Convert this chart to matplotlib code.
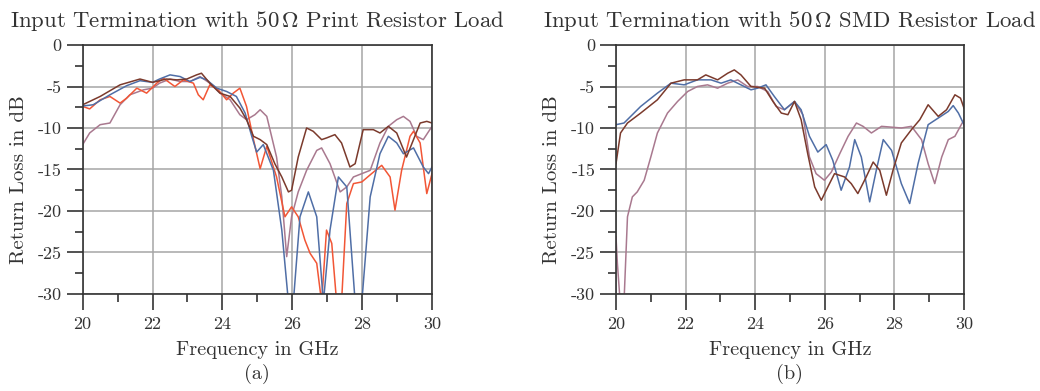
import numpy as np
import matplotlib
matplotlib.use("Agg")
import matplotlib.pyplot as plt
from matplotlib.ticker import MultipleLocator, FuncFormatter

plt.rcParams['font.family'] = 'serif'
plt.rcParams['font.serif'] = ['cmr10']
plt.rcParams['mathtext.fontset'] = 'cm'
plt.rcParams['axes.unicode_minus'] = False

## Data

# (a) print resistor load
a_blue_f = [20.0, 20.3, 20.78, 21.26, 21.64, 22.0, 22.2, 22.5, 22.79, 23.07, 23.36, 23.55, 23.84, 24.12,
            24.4, 24.65, 24.84, 24.98, 25.17, 25.46, 25.7, 25.89, 26.03, 26.22, 26.46, 26.7, 26.89,
            27.08, 27.32, 27.56, 27.8, 27.99, 28.23, 28.51, 28.75, 28.99, 29.18, 29.47, 29.75, 29.9, 30.0]
a_blue_db = [-7.35, -7.2, -6.0, -4.9, -4.3, -4.5, -4.1, -3.6, -3.8, -4.4, -3.9, -4.2, -5.2, -5.6,
             -6.2, -8.2, -11.0, -12.9, -12.0, -15.1, -22.3, -31, -31, -20.7, -17.7, -20.7, -31,
             -22.3, -15.9, -17.1, -31, -31, -18.3, -13.1, -11.0, -11.8, -13.1, -12.4, -14.7, -15.5, -14.7]

a_brown_f = [20.0, 20.5, 21.07, 21.64, 22.0, 22.4, 22.7, 22.98, 23.26, 23.4, 23.64, 23.93, 24.22, 24.5,
             24.69, 24.89, 25.08, 25.27, 25.5, 25.7, 25.89, 25.98, 26.17, 26.41, 26.6, 26.84, 26.98,
             27.22, 27.41, 27.65, 27.8, 28.03, 28.32, 28.51, 28.75, 28.99, 29.27, 29.47, 29.66, 29.85, 30.0]
a_brown_db = [-7.2, -6.2, -4.8, -4.1, -4.5, -4.1, -4.2, -4.1, -3.6, -3.4, -4.6, -5.8, -6.2, -7.6,
              -9.0, -11.0, -11.4, -12.0, -14.3, -15.9, -17.7, -17.5, -13.5, -10.0, -10.4, -11.4, -11.2,
              -10.8, -11.8, -14.7, -14.3, -10.2, -10.2, -10.6, -9.8, -10.6, -13.5, -11.4, -9.4, -9.2, -9.4]

a_mauve_f = [20.0, 20.2, 20.5, 20.78, 21.07, 21.35, 21.74, 22.0, 22.2, 22.5, 22.79, 23.07, 23.36, 23.64,
             23.93, 24.22, 24.5, 24.69, 24.93, 25.08, 25.27, 25.55, 25.7, 25.84, 25.98, 26.17, 26.41,
             26.7, 26.84, 27.08, 27.37, 27.56, 27.75, 27.99, 28.23, 28.51, 28.75, 28.99, 29.18, 29.37,
             29.56, 29.75, 30.0]
a_mauve_db = [-12.0, -10.6, -9.6, -9.4, -7.2, -6.0, -5.4, -5.2, -4.6, -4.1, -4.4, -4.4, -3.8, -4.6,
              -5.8, -6.6, -8.4, -9.0, -8.4, -7.8, -8.6, -13.5, -18.3, -25.5, -20.7, -17.7, -15.1,
              -12.7, -12.4, -14.3, -17.7, -17.1, -15.9, -15.5, -15.1, -11.8, -9.8, -9.0, -8.6, -9.2,
              -11.0, -11.4, -9.8]

a_red_f = [20.0, 20.2, 20.5, 20.78, 21.07, 21.26, 21.55, 21.83, 22.12, 22.31, 22.64, 22.88, 23.17, 23.31,
           23.45, 23.64, 23.88, 24.12, 24.31, 24.5, 24.69, 24.89, 25.08, 25.27, 25.55, 25.79, 25.98,
           26.17, 26.36, 26.51, 26.7, 26.84, 26.98, 27.13, 27.27, 27.41, 27.56, 27.75, 27.99, 28.27,
           28.56, 28.8, 28.94, 29.13, 29.37, 29.47, 29.66, 29.85, 30.0]
a_red_db = [-7.4, -7.7, -6.6, -6.2, -7.0, -6.4, -5.2, -5.8, -4.6, -4.0, -5.0, -4.2, -4.6, -6.0,
            -6.6, -4.8, -5.4, -6.6, -5.8, -5.2, -7.4, -11.4, -14.9, -12.2, -15.9, -20.7, -19.5,
            -20.7, -23.5, -25.1, -26.3, -31, -22.3, -23.9, -31, -31, -19.1, -16.7, -16.5, -15.5,
            -14.5, -15.9, -19.9, -15.1, -11.0, -10.4, -11.8, -17.9, -15.5]

# (b) SMD resistor load
b_blue_f = [20.0, 20.23, 20.71, 21.19, 21.58, 21.96, 22.34, 22.73, 23.02, 23.3, 23.59, 23.88, 24.07,
            24.31, 24.55, 24.84, 25.13, 25.32, 25.56, 25.8, 26.04, 26.23, 26.47, 26.71, 26.86, 27.05,
            27.29, 27.48, 27.68, 27.92, 28.2, 28.44, 28.68, 28.97, 29.26, 29.55, 29.69, 29.84, 30.0]
b_blue_db = [-9.6, -9.4, -7.4, -5.8, -4.6, -4.8, -4.2, -4.2, -4.6, -4.2, -4.8, -5.4, -5.2,
             -4.8, -6.2, -7.8, -6.8, -7.8, -11.0, -12.9, -12.0, -13.9, -17.5, -14.7, -11.4, -13.5,
             -18.9, -15.1, -11.4, -12.7, -16.7, -19.1, -14.3, -9.6, -8.8, -8.0, -7.3, -8.2, -9.6]

b_brown_f = [20.0, 20.13, 20.33, 20.71, 21.19, 21.58, 21.96, 22.34, 22.58, 22.92, 23.21, 23.4, 23.59,
             23.88, 24.27, 24.51, 24.75, 24.94, 25.13, 25.32, 25.51, 25.71, 25.9, 26.04, 26.28, 26.57,
             26.76, 26.95, 27.19, 27.39, 27.58, 27.77, 27.96, 28.2, 28.49, 28.73, 28.97, 29.26, 29.5,
             29.74, 29.9, 30.0]
b_brown_db = [-14.3, -10.6, -9.4, -8.2, -6.6, -4.6, -4.2, -4.2, -3.6, -4.2, -3.4, -3.0, -3.6,
              -5.0, -5.2, -6.8, -8.2, -8.4, -6.8, -9.0, -13.1, -17.1, -18.7, -17.5, -15.5, -15.9,
              -16.7, -17.9, -15.9, -14.1, -15.1, -18.1, -15.1, -11.8, -10.2, -9.0, -7.2, -8.6, -7.8,
              -6.0, -6.4, -7.6]

b_mauve_f = [20.0, 20.04, 20.12, 20.23, 20.33, 20.47, 20.61, 20.81, 21.0, 21.19, 21.48, 21.77, 22.06,
             22.34, 22.63, 22.92, 23.21, 23.5, 23.78, 24.07, 24.36, 24.6, 24.84, 25.13, 25.37, 25.56,
             25.75, 25.99, 26.19, 26.43, 26.67, 26.91, 27.1, 27.34, 27.63, 27.92, 28.2, 28.49, 28.78,
             28.97, 29.16, 29.36, 29.55, 29.74, 30.0]
b_mauve_db = [-23.1, -26.3, -31, -31, -20.7, -18.3, -17.7, -16.3, -13.5, -10.6, -8.2, -6.8, -5.6,
              -5.0, -4.8, -5.2, -4.6, -4.2, -5.0, -5.0, -5.6, -7.4, -7.8, -6.8, -8.4, -13.5,
              -15.5, -16.3, -15.3, -13.1, -11.0, -9.4, -9.8, -10.6, -9.8, -9.9, -10.0, -9.8, -11.4,
              -14.3, -16.7, -13.5, -11.4, -11.0, -9.0]

titles = [r"Input Termination with 50$\,\Omega$ Print Resistor Load",
          r"Input Termination with 50$\,\Omega$ SMD Resistor Load"]
sub_labels = ["(a)", "(b)"]

c_blue = '#4f6ea6'
c_brown = '#7b3a2c'
c_mauve = '#a9798f'
c_red = '#f25636'
c_text = '#333333'

fig = plt.figure(figsize=(10.4, 3.91), dpi=100)
ax1 = fig.add_axes([0.0795, 0.2481, 0.3359, 0.6368])
ax2 = fig.add_axes([0.5923, 0.2481, 0.3346, 0.6368])

ax1.plot(a_mauve_f, a_mauve_db, color=c_mauve, lw=1.1)
ax1.plot(a_red_f, a_red_db, color=c_red, lw=1.1)
ax1.plot(a_blue_f, a_blue_db, color=c_blue, lw=1.1)
ax1.plot(a_brown_f, a_brown_db, color=c_brown, lw=1.1)

ax2.plot(b_mauve_f, b_mauve_db, color=c_mauve, lw=1.1)
ax2.plot(b_blue_f, b_blue_db, color=c_blue, lw=1.1)
ax2.plot(b_brown_f, b_brown_db, color=c_brown, lw=1.1)

fmt = FuncFormatter(lambda v, p: "%d" % round(v))
for ax, title, sub in zip([ax1, ax2], titles, sub_labels):
    ax.set_xlim(20, 30)
    ax.set_ylim(-30, 0)
    ax.xaxis.set_major_locator(MultipleLocator(2))
    ax.xaxis.set_minor_locator(MultipleLocator(1))
    ax.yaxis.set_major_locator(MultipleLocator(5))
    ax.yaxis.set_minor_locator(MultipleLocator(2.5))
    ax.xaxis.set_major_formatter(fmt)
    ax.yaxis.set_major_formatter(fmt)
    ax.grid(True, which='major', color='#a6a6a6', lw=1.1)
    ax.set_axisbelow(True)
    for s in ax.spines.values():
        s.set_color(c_text)
        s.set_linewidth(1.2)
    ax.tick_params(which='major', direction='out', length=11.5, width=1.2, color=c_text,
                   labelsize=13, labelcolor=c_text)
    ax.tick_params(axis='x', which='major', pad=5)
    ax.tick_params(axis='y', which='major', pad=3.5)
    ax.tick_params(which='minor', direction='out', length=6, width=1.2, color=c_text)
    ax.set_xlabel("Frequency in GHz", fontsize=14.6, color=c_text, va='center')
    ax.set_ylabel("Return Loss in dB", fontsize=15, color=c_text)
    ax.xaxis.set_label_coords(0.5, -0.225)
    ax.yaxis.set_label_coords(-0.157, 0.458)
    ax.set_title(title, fontsize=16.4, color=c_text, y=1.072, pad=0)
    ax.text(0.5, -0.321, sub, transform=ax.transAxes, ha='center', va='center',
            fontsize=14.6, color=c_text)

fig.savefig("out.png", dpi=100)
